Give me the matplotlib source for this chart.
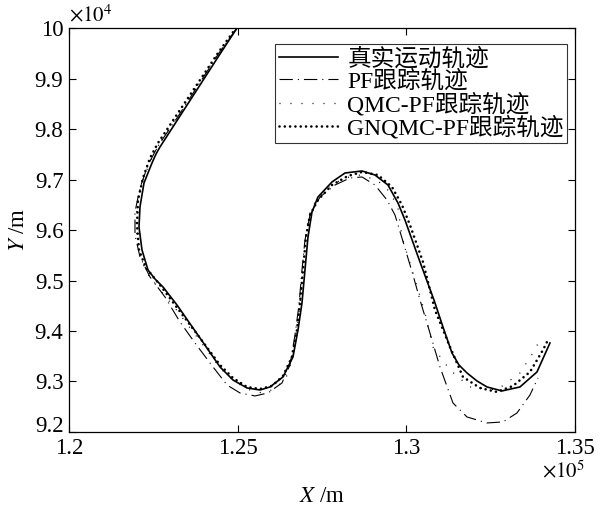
import matplotlib
matplotlib.use('Agg')
import matplotlib.pyplot as plt

plt.rcParams['font.family'] = ['Liberation Serif', 'Noto Sans CJK SC']
plt.rcParams['mathtext.fontset'] = 'stix'

# trajectories in metres
true_x = [124980, 124476, 123883, 123290, 122697, 122579, 122460, 122223, 122104, 122075,
          122164, 122342, 122549, 122786, 123201, 123883, 124476, 124861, 125276, 125661,
          125958, 126343, 126639, 126788, 126906, 126995, 127084, 127203, 127380, 127795,
          128181, 128685, 129070, 129455, 129752, 129959, 130404, 130819, 131085, 131352,
          131560, 131797, 132093, 132390, 132834, 133368, 133872, 134257]
true_y = [100000, 99485, 98871, 98258, 97644, 97505, 97327, 96931, 96456, 96060,
          95604, 95208, 95030, 94872, 94515, 93862, 93288, 93030, 92872, 92832,
          92892, 93090, 93486, 94020, 94555, 95208, 95862, 96357, 96654, 96951,
          97129, 97169, 97089, 96891, 96535, 96198, 95367, 94614, 94080, 93565,
          93327, 93169, 93011, 92892, 92813, 92892, 93189, 93763]

pf_x = [124980, 124446, 123853, 123260, 122638, 122342, 122104, 121956, 121956, 122104,
        122401, 122845, 123290, 123735, 124179, 124683, 125068, 125513, 125898, 126313,
        126550, 126699, 126817, 126906, 126995, 127143, 127440, 127884, 128329, 128685,
        129070, 129426, 129663, 129959, 130196, 130404, 130611, 130996, 131382, 131797,
        132390, 132864, 133279, 133664, 133901]
pf_y = [100000, 99505, 98891, 98277, 97664, 97287, 96832, 96357, 95901, 95466,
        95070, 94674, 94179, 93763, 93367, 92931, 92773, 92714, 92773, 92971,
        93327, 93921, 94515, 95208, 95802, 96297, 96654, 96891, 97030, 97050,
        96891, 96594, 96297, 95644, 95109, 94614, 94159, 93288, 92575, 92298,
        92179, 92199, 92377, 92733, 93070]

qmc_x = [124950, 124416, 123824, 123231, 122638, 122401, 122164, 122016, 121986, 122075,
         122282, 122697, 123142, 123883, 124476, 124920, 125365, 125721, 126106, 126432,
         126639, 126758, 126847, 126936, 126995, 127114, 127321, 127736, 128181, 128625,
         129129, 129514, 129752, 129870, 130196, 130552, 130789, 131293, 131886, 132686,
         133368, 133753, 133960]
qmc_y = [99960, 99485, 98891, 98277, 97664, 97347, 96951, 96495, 96040, 95565,
         95169, 94812, 94456, 93803, 93268, 92991, 92832, 92773, 92852, 93070,
         93486, 94020, 94555, 95208, 95802, 96297, 96594, 96872, 97030, 97089,
         96990, 96753, 96436, 95862, 95149, 94357, 93684, 93228, 92892, 92832,
         93169, 93565, 93822]

gn_x = [124950, 124416, 123824, 123231, 122638, 122401, 122193, 122045, 122016, 122075,
        122282, 122697, 123142, 123883, 124476, 124861, 125276, 125661, 126017, 126343,
        126610, 126758, 126847, 126936, 127025, 127143, 127380, 127795, 128270, 128685,
        129159, 129574, 129870, 130107, 130493, 130848, 131293, 131678, 132182, 132686,
        133160, 133664, 134049, 134198]
gn_y = [100000, 99505, 98911, 98317, 97723, 97426, 97030, 96594, 96099, 95604,
        95248, 94911, 94515, 93862, 93327, 93070, 92892, 92852, 92912, 93110,
        93486, 94020, 94555, 95208, 95862, 96297, 96594, 96891, 97070, 97149,
        97089, 96852, 96495, 96099, 95367, 94416, 93684, 93090, 92872, 92793,
        92912, 93189, 93624, 93822]

labels = ['真实运动轨迹', 'PF跟踪轨迹', 'QMC-PF跟踪轨迹', 'GNQMC-PF跟踪轨迹']
x_ticks = [120000, 125000, 130000, 135000]
x_tick_labels = ['1.2', '1.25', '1.3', '1.35']
y_ticks = [92000, 93000, 94000, 95000, 96000, 97000, 98000, 99000, 100000]
y_tick_labels = ['9.2', '9.3', '9.4', '9.5', '9.6', '9.7', '9.8', '9.9', '10']

fig = plt.figure(figsize=(6.01, 5.13), dpi=100)
ax = fig.add_axes([0.1148, 0.1579, 0.842, 0.7875])

ax.plot(true_x, true_y, color='black', lw=1.2, label=labels[0])
ax.plot(pf_x, pf_y, color='black', lw=0.8, linestyle=(0, (12, 4.5, 1, 4.5)), label=labels[1])
ax.plot(qmc_x, qmc_y, color='black', lw=0.9, linestyle=(0, (0.8, 8)), label=labels[2])
ax.plot(gn_x, gn_y, color='black', lw=1.9, linestyle=(0, (0.01, 2.0)),
        dash_capstyle='round', label=labels[3])

ax.set_xlim(120000, 135000)
ax.set_ylim(92000, 100000)
ax.set_xticks(x_ticks)
ax.set_xticklabels(x_tick_labels)
ax.set_yticks(y_ticks)
ax.set_yticklabels(y_tick_labels)
ax.tick_params(direction='in', length=5, width=0.8, top=True, right=True,
               labelsize=16.5, pad=4)
# bottom y label sits on its tick, as in the original
ax.get_yticklabels()[0].set_verticalalignment('baseline')
for s in ax.spines.values():
    s.set_linewidth(0.9)

ax.text(0.0, 1.005, r'$\times10^{4}$', transform=ax.transAxes, fontsize=15,
        ha='left', va='bottom')
ax.text(1.02, -0.07, r'$\times10^{5}$', transform=ax.transAxes, fontsize=15,
        ha='right', va='top')

ax.set_xlabel(r'$X$ /m', fontsize=16.5, labelpad=20)
ax.set_ylabel(r'$Y$ /m', fontsize=16.5, labelpad=4)

leg = ax.legend(loc='upper right', bbox_to_anchor=(0.985, 0.96), fontsize=17,
                frameon=True, fancybox=False, edgecolor='black', handlelength=2.5,
                labelspacing=0.0, borderpad=0.15, handletextpad=0.4, borderaxespad=0)
leg.get_frame().set_linewidth(0.8)

fig.savefig('out.png', dpi=100)
